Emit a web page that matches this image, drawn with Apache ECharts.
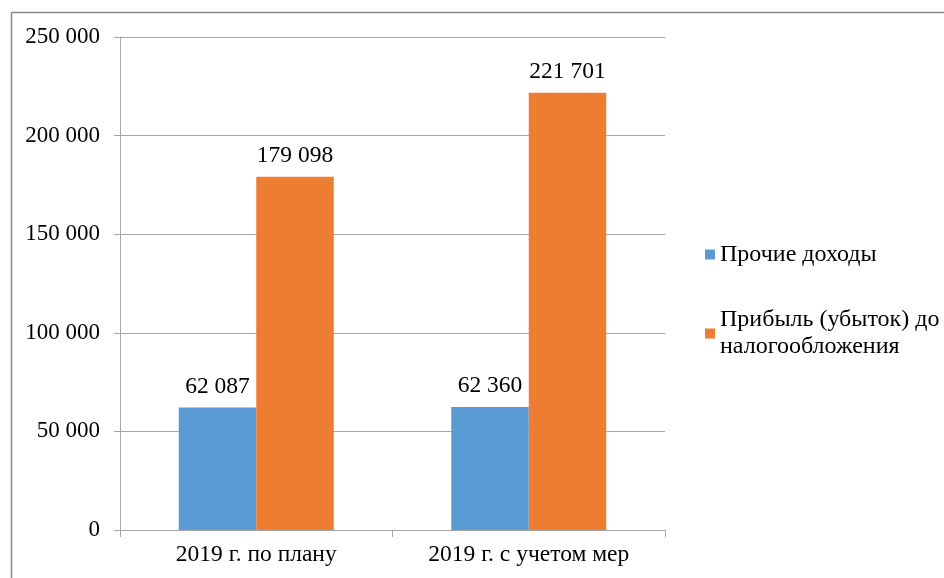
<!DOCTYPE html>
<html>
<head>
<meta charset="utf-8">
<style>
  html, body { margin: 0; padding: 0; background: #ffffff; }
  #chart { width: 944px; height: 578px; }
</style>
<script src="https://cdn.jsdelivr.net/npm/echarts@6/dist/echarts.min.js"></script>
</head>
<body>
<div id="chart"></div>
<script>
// Categories (years/scenarios) and series values
const categories = ['2019 г. по плану', '2019 г. с учетом мер'];
const seriesNames = ['Прочие доходы', 'Прибыль (убыток) до налогообложения'];
const otherIncome = [62087, 62360];
const profitBeforeTax = [179098, 221701];
const yTicks = { min: 0, max: 250000, interval: 50000 };

const FONT = '"Liberation Serif", "Times New Roman", serif';
const fmt = v => String(v).replace(/\B(?=(\d{3})+(?!\d))/g, ' ');

const chart = echarts.init(document.getElementById('chart'));

const labelStyle = {
  show: true,
  position: 'top',
  distance: 9,
  fontFamily: FONT,
  fontSize: 23.5,
  color: '#000',
  formatter: p => fmt(p.value)
};

chart.setOption({
  animation: false,
  backgroundColor: '#ffffff',
  grid: { left: 120, right: 279, top: 37, bottom: 48, containLabel: false },
  legend: [
    {
      data: [seriesNames[0]],
      left: 700, top: 236,
      orient: 'vertical',
      itemWidth: 10, itemHeight: 10,
      itemGap: 0,
      icon: 'rect',
      textStyle: { fontFamily: FONT, fontSize: 24, color: '#000', lineHeight: 27 },
      selectedMode: false
    },
    {
      data: [seriesNames[1]],
      left: 700, top: 288,
      orient: 'vertical',
      itemWidth: 10, itemHeight: 10,
      icon: 'rect',
      formatter: name => name.replace(' до ', ' до\n'),
      textStyle: { fontFamily: FONT, fontSize: 24, color: '#000', lineHeight: 27, padding: [27, 0, 0, 0] },
      selectedMode: false
    }
  ],
  xAxis: {
    type: 'category',
    data: categories,
    axisLine: { lineStyle: { color: '#A6A6A6', width: 1 } },
    axisTick: { show: true, alignWithLabel: false, length: 7, lineStyle: { color: '#A6A6A6' } },
    axisLabel: { fontFamily: FONT, fontSize: 23.5, color: '#000', margin: 13 }
  },
  yAxis: {
    type: 'value',
    min: yTicks.min, max: yTicks.max, interval: yTicks.interval,
    axisLine: { show: true, lineStyle: { color: '#A6A6A6', width: 1 } },
    axisTick: { show: true, length: 6, lineStyle: { color: '#A6A6A6' } },
    splitLine: { lineStyle: { color: '#A6A6A6', width: 1 } },
    axisLabel: { fontFamily: FONT, fontSize: 23, color: '#000', margin: 20, formatter: v => fmt(v) }
  },
  series: [
    {
      name: seriesNames[0],
      type: 'bar',
      data: otherIncome,
      barWidth: 77.5,
      barGap: '0%',
      itemStyle: { color: '#5B9BD5' },
      label: labelStyle
    },
    {
      name: seriesNames[1],
      type: 'bar',
      data: profitBeforeTax,
      barWidth: 77.5,
      barGap: '0%',
      itemStyle: { color: '#ED7D31' },
      label: labelStyle
    }
  ],
  graphic: [
    // outer frame of the chart area (top and left edges)
    { type: 'line', shape: { x1: 11.5, y1: 12.5, x2: 944, y2: 12.5 }, style: { stroke: '#888', lineWidth: 1.5 } },
    { type: 'line', shape: { x1: 11.5, y1: 12.5, x2: 11.5, y2: 578 }, style: { stroke: '#888', lineWidth: 1.5 } }
  ]
});
</script>
</body>
</html>
